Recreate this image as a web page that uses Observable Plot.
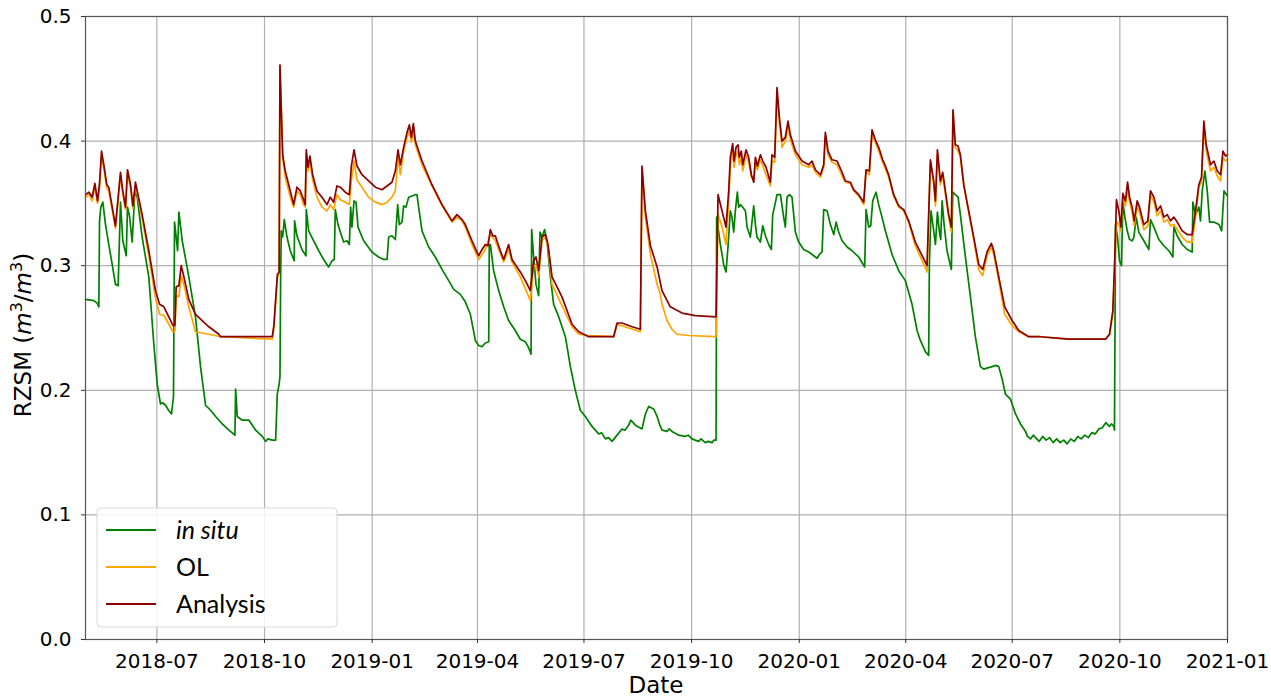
<!DOCTYPE html>
<html>
<head>
<meta charset="utf-8">
<script src="https://cdn.jsdelivr.net/npm/d3@7"></script>
<script src="https://cdn.jsdelivr.net/npm/@observablehq/plot@0.6"></script>
<style>
  html, body { margin: 0; padding: 0; background: #fff; }
  #chart { width: 1271px; height: 696px; }
</style>
</head>
<body>
<div id="chart"></div>
<script>
// Dates are given as day offsets from startDate
const startDate = "2018-05-01";
const endDate = "2021-01-01";
const yTicks = [0, 0.1, 0.2, 0.3, 0.4, 0.5];
const seriesNames = ["in situ", "OL", "Analysis"];
const seriesColors = ["#008000", "#ffa500", "#8b0000"];

const inSitu = [
[0,0.273],[7.1,0.272],[10,0.270],[11.4,0.267],[12,0.336],[13.1,0.347],[14.8,0.351],[17.1,0.333],[19.9,0.317],[22.8,0.301],[25.6,0.285],[27.9,0.284],
[29.9,0.351],[31.9,0.320],[34.8,0.308],[35.9,0.347],[37.6,0.340],[39.9,0.319],[42.2,0.360],[44.2,0.355],[48.4,0.323],[54.1,0.291],[58.4,0.237],[61.3,0.205],
[64.1,0.189],[66,0.190],[68.4,0.188],[71,0.184],[73.5,0.181],[75.2,0.195],[76.1,0.335],[77.5,0.323],[78.7,0.312],[79.8,0.343],[82.7,0.320],[88.3,0.291],[94,0.259],
[98.3,0.219],[102.6,0.188],[106.9,0.184],[111.2,0.179],[116.9,0.173],[122.6,0.168],[127.7,0.164],[128.3,0.201],[129.7,0.179],[134,0.176],[139.7,0.176],
[145.4,0.168],[151.1,0.163],[153.9,0.159],[156,0.161],[159.6,0.160],[162.5,0.160],[163.9,0.197],[165.5,0.205],[166.2,0.211],[166.8,0.293],[167.3,0.328],
[168.5,0.323],[169.9,0.337],[172.2,0.323],[175,0.312],[178.4,0.304],[178.7,0.336],[180.7,0.324],[185,0.313],[188.4,0.308],[188.7,0.345],[190.7,0.328],
[195,0.320],[199.3,0.312],[203.5,0.305],[207.8,0.299],[210.7,0.304],[212.6,0.305],[213.5,0.345],[215.8,0.333],[217.8,0.327],[220.6,0.319],[223.5,0.320],
[225.5,0.317],[226.6,0.347],[227.7,0.331],[229.5,0.352],[231.2,0.351],[232.9,0.331],[237.7,0.320],[244.8,0.311],[250.5,0.307],[254.8,0.305],[257.7,0.305],
[259.1,0.323],[261.9,0.324],[264.8,0.321],[266.8,0.349],[268.2,0.333],[270.5,0.335],[271.9,0.348],[273.9,0.347],[276.2,0.355],[279,0.356],[281.9,0.357],
[283.3,0.357],[284.7,0.347],[287.6,0.328],[293.3,0.315],[299,0.307],[304.7,0.297],[310.4,0.288],[314.7,0.281],[320.4,0.277],[324.6,0.271],[328.9,0.261],
[333.2,0.240],[336,0.236],[338.9,0.235],[341.7,0.238],[344.6,0.239],[345.1,0.317],[346,0.317],[348.8,0.296],[353.1,0.280],[357.4,0.267],[361.6,0.256],
[367.3,0.248],[371.6,0.241],[375.9,0.239],[378.8,0.234],[380.8,0.229],[381.3,0.329],[383,0.307],[385,0.285],[387.3,0.276],[388.4,0.327],[390.1,0.323],
[392.4,0.329],[394.4,0.320],[397.3,0.291],[400.1,0.269],[404.4,0.259],[410.1,0.243],[414.4,0.219],[418.6,0.200],[422.9,0.184],[427.2,0.179],[432.9,0.171],
[438.6,0.165],[441,0.166],[444.3,0.161],[447,0.162],[450,0.159],[454.3,0.164],[458.5,0.169],[461,0.168],[464.2,0.172],[466,0.176],[470,0.172],[475.6,0.169],
[478.5,0.181],[481.3,0.187],[485.6,0.185],[488.5,0.179],[491.3,0.171],[492.7,0.168],[497,0.167],[499,0.169],[501.2,0.167],[507,0.164],[512.6,0.163],
[515,0.164],[518.4,0.161],[521,0.160],[524,0.159],[526,0.161],[529.7,0.158],[532,0.159],[535.4,0.158],[537,0.160],[538.9,0.160],[539.4,0.339],[542.6,0.317],
[545.4,0.301],[547.4,0.295],[549.1,0.315],[551.1,0.344],[552.5,0.339],[554,0.327],[555.4,0.344],[557.1,0.359],[558.2,0.347],[559.7,0.349],[561.7,0.347],
[564,0.344],[565.4,0.331],[568.2,0.323],[571.1,0.348],[572.5,0.333],[573.9,0.323],[576.8,0.319],[578.8,0.332],[581.1,0.324],[583.9,0.317],[586.2,0.313],
[587.3,0.341],[589,0.348],[591,0.357],[593.9,0.357],[596.7,0.339],[598.1,0.331],[599.6,0.355],[601.6,0.357],[603.8,0.355],[606.7,0.327],[609.5,0.319],
[613.8,0.313],[618.1,0.311],[622.4,0.308],[625.2,0.306],[627.2,0.309],[629.5,0.311],[630.9,0.345],[633.8,0.344],[636.6,0.333],[639.5,0.325],[641.5,0.335],
[643.7,0.327],[646.6,0.320],[650.9,0.315],[655.1,0.312],[660.8,0.307],[665.9,0.299],[667.1,0.345],[669.4,0.331],[671.1,0.332],[672.8,0.352],[675.6,0.359],
[677.9,0.349],[680.7,0.339],[683.6,0.328],[689.3,0.309],[695,0.296],[700.7,0.288],[706.4,0.269],[710.7,0.248],[713.5,0.240],[717.8,0.231],[720.6,0.228],
[721.2,0.300],[722.6,0.344],[724.9,0.328],[726.4,0.317],[728.1,0.343],[729.8,0.327],[730.9,0.321],[732.1,0.352],[733.8,0.333],[736.3,0.312],[740,0.297],
[741.2,0.359],[743.4,0.357],[745.7,0.355],[747.7,0.341],[752,0.307],[756.3,0.275],[760.5,0.243],[764.8,0.219],[767.7,0.217],[771,0.218],[774.8,0.219],
[778,0.220],[780.5,0.219],[783.4,0.209],[786.2,0.197],[790.5,0.193],[794.8,0.181],[799.1,0.173],[803.4,0.167],[805,0.163],[807.7,0.161],[810,0.164],
[812,0.162],[815,0.159],[818,0.163],[821,0.160],[824,0.162],[827,0.158],[830,0.161],[833,0.158],[836,0.160],[839,0.157],[842,0.161],[845,0.159],
[848,0.163],[851,0.161],[854,0.164],[857,0.162],[860,0.166],[863,0.165],[866,0.169],[869,0.170],[872,0.174],[875,0.171],[877,0.173],[878.9,0.171],
[879.4,0.168],[880.3,0.333],[882,0.323],[883.7,0.304],[885.4,0.300],[886.6,0.351],[888.3,0.339],[890.3,0.328],[892.3,0.321],[894.5,0.320],[896,0.323],
[898,0.339],[900.2,0.327],[904.5,0.320],[908.8,0.313],[910.2,0.337],[913.1,0.331],[917.3,0.321],[921.6,0.316],[925.9,0.312],[929.3,0.307],[930.2,0.331],
[933,0.324],[937.3,0.317],[941.6,0.313],[945.8,0.311],[946.4,0.351],[948.7,0.341],[951.5,0.347],[952.9,0.336],[954.4,0.360],[956.7,0.376],[958.7,0.360],
[960.7,0.335],[964.4,0.335],[968.7,0.333],[971,0.328],[973,0.360],[976,0.356]
];

const openLoop = [
[0,0.355],[3,0.357],[5.7,0.352],[8,0.363],[10.3,0.350],[12,0.363],[13.7,0.388],[16,0.376],[18.2,0.362],[19.9,0.360],[25.6,0.330],[29.9,0.372],
[31.9,0.357],[34.2,0.345],[35.9,0.374],[38.5,0.362],[40.5,0.346],[42.7,0.364],[44.2,0.358],[48.4,0.338],[54.1,0.308],[59.8,0.274],[63.3,0.261],
[67,0.260],[71.2,0.253],[74.7,0.247],[76.4,0.247],[77.5,0.276],[79.8,0.275],[81.8,0.292],[84.1,0.285],[88.3,0.267],[94,0.247],[105.4,0.245],
[115.4,0.243],[159.6,0.241],[161,0.250],[164,0.291],[165.5,0.293],[166.2,0.461],[168.5,0.387],[170.7,0.371],[175,0.355],[177.9,0.347],[180.7,0.360],
[183.6,0.357],[186.4,0.349],[187.8,0.347],[188.7,0.389],[190.1,0.376],[191.8,0.384],[194.1,0.369],[197.8,0.355],[202.1,0.347],[206.4,0.344],
[209.2,0.349],[212.1,0.345],[214.9,0.357],[217.8,0.353],[222,0.351],[225.5,0.349],[227.2,0.368],[229.5,0.384],[232,0.369],[236.3,0.363],[242,0.355],
[247.7,0.351],[253.4,0.349],[257.7,0.351],[261.9,0.355],[264.8,0.360],[267.1,0.387],[269.1,0.373],[271.9,0.392],[274.8,0.403],[276.8,0.408],
[278.5,0.399],[280.2,0.408],[281.9,0.397],[287.6,0.381],[296.1,0.364],[304.7,0.348],[313.2,0.335],[317.5,0.339],[321.8,0.336],[324.6,0.331],
[330.3,0.317],[336,0.305],[341.7,0.313],[346,0.325],[350.2,0.320],[357.4,0.303],[361.6,0.313],[364.5,0.303],[371.6,0.291],[380.2,0.272],[383,0.299],
[385,0.301],[387.3,0.291],[390.1,0.320],[393,0.323],[395.3,0.315],[398.7,0.285],[407.2,0.268],[415.8,0.251],[421.5,0.245],[430,0.244],[451.4,0.243],
[454.3,0.253],[474.2,0.247],[475.6,0.375],[478.5,0.339],[482.8,0.309],[488.5,0.285],[491.3,0.277],[492.7,0.269],[497,0.256],[501.2,0.249],[505.5,0.245],
[515.5,0.244],[538.9,0.243],[540.6,0.341],[544,0.331],[547.4,0.317],[549.7,0.352],[551.1,0.379],[553.1,0.392],[554.3,0.379],[556,0.389],[557.7,0.392],
[558.8,0.381],[560.5,0.387],[561.7,0.376],[564.5,0.389],[566.8,0.383],[569.1,0.371],[571.1,0.369],[572.5,0.383],[574.2,0.377],[576.8,0.385],
[578.8,0.380],[581.6,0.373],[585.3,0.364],[586.7,0.384],[589,0.383],[591,0.437],[593,0.415],[595.3,0.395],[598.1,0.400],[600.4,0.412],[602.4,0.401],
[606.7,0.389],[612.4,0.381],[618.1,0.379],[620.9,0.381],[623.8,0.375],[628.1,0.371],[630.9,0.379],[632.3,0.403],[634.6,0.389],[638,0.383],[642.3,0.381],
[646.6,0.372],[649.4,0.367],[653.7,0.366],[656.5,0.360],[660.8,0.356],[665.1,0.349],[667.1,0.376],[669.9,0.373],[672.2,0.405],[675,0.399],[677.9,0.392],
[681.3,0.383],[686.4,0.371],[690.7,0.356],[695,0.347],[699.3,0.344],[703.5,0.335],[709.2,0.316],[715,0.304],[719.2,0.295],[722.1,0.383],[724.9,0.365],
[726.4,0.348],[728.1,0.389],[730.6,0.365],[732.6,0.372],[734.9,0.357],[737.7,0.339],[740,0.327],[741.4,0.423],[743.4,0.395],[745.7,0.392],[747.7,0.387],
[750.6,0.364],[754.8,0.343],[759.1,0.321],[763.4,0.297],[766.8,0.292],[770.5,0.308],[774.2,0.315],[776.2,0.309],[780.5,0.288],[785.6,0.261],[791.9,0.252],
[797.6,0.247],[806.1,0.243],[816.1,0.243],[840.4,0.241],[871.7,0.241],[875.2,0.245],[878,0.261],[879.7,0.301],[881.1,0.336],[883.1,0.333],[884.9,0.328],
[886.6,0.355],[888.8,0.348],[890.6,0.363],[892.3,0.351],[894.5,0.343],[896.3,0.332],[898.8,0.348],[900.8,0.343],[904.5,0.329],[907.9,0.332],[910.2,0.357],
[913.1,0.351],[915.9,0.340],[918.8,0.344],[921.6,0.335],[924.5,0.337],[927.3,0.332],[930.2,0.333],[933,0.329],[937.3,0.323],[941.6,0.319],[945.8,0.319],
[948.7,0.339],[951.5,0.363],[953.8,0.367],[955.8,0.411],[957.8,0.392],[961.5,0.376],[964.4,0.379],[967.2,0.372],[970.1,0.368],[972.1,0.387],[974.3,0.384],
[976,0.385]
];

const analysis = [
[0,0.357],[3,0.359],[5.7,0.355],[8,0.366],[10.3,0.352],[12,0.366],[13.7,0.392],[16,0.379],[18.2,0.365],[19.9,0.363],[25.6,0.332],[29.9,0.375],
[31.9,0.360],[34.2,0.347],[35.9,0.377],[38.5,0.365],[40.5,0.348],[42.7,0.367],[44.2,0.360],[48.4,0.341],[54.1,0.312],[59.8,0.280],[63.3,0.269],
[67,0.267],[71.2,0.259],[74.7,0.252],[76.4,0.252],[77.5,0.283],[79.8,0.284],[81.8,0.300],[84.1,0.291],[88.3,0.273],[94,0.261],[105.4,0.251],
[114,0.245],[115.4,0.243],[128.2,0.243],[159.6,0.243],[161,0.252],[164,0.293],[165.5,0.295],[166.2,0.461],[168.5,0.389],[170.7,0.376],[175,0.360],
[177.9,0.349],[180.7,0.363],[183.6,0.360],[186.4,0.353],[187.8,0.349],[188.7,0.393],[190.1,0.379],[191.8,0.388],[194.1,0.373],[197.8,0.360],
[202.1,0.355],[206.4,0.349],[209.2,0.355],[212.1,0.351],[214.9,0.364],[217.8,0.363],[222,0.359],[225.5,0.357],[227.2,0.380],[229.5,0.393],[232,0.380],
[236.3,0.373],[242,0.368],[247.7,0.363],[253.4,0.361],[257.7,0.364],[261.9,0.367],[264.8,0.376],[267.1,0.393],[269.1,0.381],[271.9,0.395],[274.8,0.407],
[276.8,0.413],[278.5,0.403],[280.2,0.414],[281.9,0.400],[287.6,0.384],[296.1,0.365],[304.7,0.349],[313.2,0.336],[317.5,0.341],[321.8,0.337],
[324.6,0.333],[330.3,0.320],[336,0.308],[338.9,0.313],[341.7,0.317],[344,0.316],[346,0.329],[348,0.324],[350.2,0.324],[354.5,0.312],[357.4,0.305],
[361.6,0.317],[364.5,0.305],[367.3,0.301],[371.6,0.295],[375.9,0.288],[380.2,0.280],[383,0.304],[385,0.307],[387.3,0.296],[390.1,0.323],[393,0.325],
[395.3,0.317],[398.7,0.291],[403,0.283],[407.2,0.275],[411.5,0.264],[415.8,0.253],[421.5,0.247],[430,0.243],[451.4,0.243],[454.3,0.254],[458.5,0.254],
[467.1,0.251],[474.2,0.249],[475.6,0.380],[478.5,0.344],[482.8,0.316],[488.5,0.299],[492.7,0.280],[499.8,0.267],[509.8,0.262],[521.2,0.260],
[538.9,0.259],[540.6,0.357],[544,0.344],[547.4,0.331],[549.7,0.360],[551.1,0.387],[553.1,0.398],[554.3,0.384],[556,0.395],[557.7,0.397],[558.8,0.387],
[560.5,0.392],[561.7,0.381],[564.5,0.393],[566.8,0.387],[569.1,0.373],[571.1,0.367],[572.5,0.387],[574.2,0.380],[576.8,0.389],[578.8,0.384],
[581.6,0.379],[585.3,0.367],[586.7,0.389],[589,0.387],[591,0.443],[593,0.419],[595.3,0.400],[598.1,0.403],[600.4,0.416],[602.4,0.405],[606.7,0.392],
[612.4,0.384],[618.1,0.381],[620.9,0.384],[623.8,0.377],[628.1,0.373],[630.9,0.381],[632.3,0.407],[634.6,0.392],[638,0.385],[642.3,0.384],[646.6,0.375],
[649.4,0.368],[653.7,0.367],[656.5,0.361],[660.8,0.357],[665.1,0.351],[667.1,0.377],[669.9,0.376],[672.2,0.409],[675,0.401],[677.9,0.395],[681.3,0.385],
[683.6,0.380],[686.4,0.373],[690.7,0.357],[695,0.348],[699.3,0.345],[703.5,0.336],[709.2,0.319],[715,0.308],[719.2,0.300],[722.1,0.385],[724.9,0.368],
[726.4,0.352],[728.1,0.393],[730.6,0.368],[732.6,0.375],[734.9,0.360],[737.7,0.341],[740,0.331],[741.4,0.425],[743.4,0.397],[745.7,0.396],[747.7,0.389],
[750.6,0.365],[754.8,0.344],[759.1,0.323],[763.4,0.301],[766.8,0.297],[770.5,0.311],[774.2,0.318],[776.2,0.312],[780.5,0.291],[785.6,0.267],[791.9,0.256],
[797.6,0.248],[806.1,0.243],[816.1,0.243],[840.4,0.241],[871.7,0.241],[875.2,0.245],[878,0.264],[879.7,0.307],[881.1,0.353],[883.1,0.344],[884.9,0.331],
[886.6,0.358],[888.8,0.352],[890.6,0.367],[892.3,0.355],[894.5,0.347],[896.3,0.336],[898.8,0.352],[900.8,0.347],[904.5,0.333],[907.9,0.336],[910.2,0.360],
[913.1,0.355],[915.9,0.344],[918.8,0.348],[921.6,0.339],[924.5,0.341],[927.3,0.336],[930.2,0.339],[933,0.335],[937.3,0.328],[941.6,0.325],[945.8,0.325],
[948.7,0.344],[951.5,0.365],[953.8,0.371],[955.8,0.416],[957.8,0.397],[961.5,0.381],[964.4,0.384],[967.2,0.376],[970.1,0.373],[972.1,0.392],[974.3,0.388],
[976,0.389]
];

const t0 = new Date(startDate + "T00:00:00Z").getTime();
const toRows = (arr) => arr.map(([d, v]) => ({date: new Date(t0 + d * 86400000), value: v}));
const seriesData = [toRows(inSitu), toRows(openLoop), toRows(analysis)];

const W = 1271, H = 696;
const mL = 85, mR = 44, mT = 16, mB = 57;
const quarter = d3.utcMonth.every(3);

const chart = Plot.plot({
  width: W,
  height: H,
  marginLeft: mL,
  marginRight: mR,
  marginTop: mT,
  marginBottom: mB,
  style: {fontFamily: "'DejaVu Sans', sans-serif", fontSize: "20px", color: "#000", background: "#fff", overflow: "visible"},
  x: {type: "utc", domain: [new Date(startDate + "T00:00:00Z"), new Date(endDate + "T00:00:00Z")]},
  y: {domain: [0, 0.5]},
  marks: [
    Plot.gridX({ticks: quarter, stroke: "#b0b0b0", strokeOpacity: 1, strokeWidth: 1.2}),
    Plot.gridY(yTicks, {stroke: "#b0b0b0", strokeOpacity: 1, strokeWidth: 1.2}),
    ...seriesData.map((rows, i) => Plot.line(rows, {x: "date", y: "value", stroke: seriesColors[i], strokeWidth: 1.7})),
    Plot.frame({stroke: "#555", strokeWidth: 1.2}),
    Plot.axisX({ticks: quarter, tickFormat: d3.utcFormat("%Y-%m"), tickSize: 4, tickPadding: 10, fontSize: 20, label: null, stroke: "#333"}),
    Plot.axisY(yTicks, {tickFormat: d3.format(".1f"), tickSize: 4, tickPadding: 10, fontSize: 20, label: null, stroke: "#333"})
  ]
});

document.getElementById("chart").appendChild(chart);

const svg = d3.select(chart);

// Axis titles
svg.append("text")
  .attr("x", (mL + (W - mR)) / 2)
  .attr("y", 693)
  .attr("text-anchor", "middle")
  .attr("font-family", "'DejaVu Sans', sans-serif")
  .attr("font-size", 23)
  .attr("fill", "#000")
  .text("Date");

const yl = svg.append("text")
  .attr("transform", "translate(31,335) rotate(-90)")
  .attr("text-anchor", "middle")
  .attr("font-family", "'DejaVu Sans', sans-serif")
  .attr("font-size", 23)
  .attr("fill", "#000");
yl.append("tspan").text("RZSM (");
yl.append("tspan").attr("font-style", "italic").text("m");
yl.append("tspan").attr("font-size", 16).attr("dy", -9).text("3");
yl.append("tspan").attr("dy", 9).text("/");
yl.append("tspan").attr("font-style", "italic").text("m");
yl.append("tspan").attr("font-size", 16).attr("dy", -9).text("3");
yl.append("tspan").attr("dy", 9).text(")");

// Legend
const lg = svg.append("g");
lg.append("rect")
  .attr("x", 97).attr("y", 508).attr("width", 240).attr("height", 119)
  .attr("rx", 4)
  .attr("fill", "#fff").attr("fill-opacity", 0.85)
  .attr("stroke", "#d8d8d8");
seriesNames.forEach((name, i) => {
  const yy = 530 + i * 37;
  lg.append("line")
    .attr("x1", 106).attr("x2", 156).attr("y1", yy).attr("y2", yy)
    .attr("stroke", seriesColors[i]).attr("stroke-width", 1.8);
  lg.append("text")
    .attr("x", 176).attr("y", yy)
    .attr("dy", "0.36em")
    .attr("text-anchor", "start")
    .attr("font-family", "Lato, sans-serif")
    .attr("font-size", 25)
    .attr("font-style", i === 0 ? "italic" : "normal")
    .attr("fill", "#000")
    .text(name);
});
</script>
</body>
</html>
